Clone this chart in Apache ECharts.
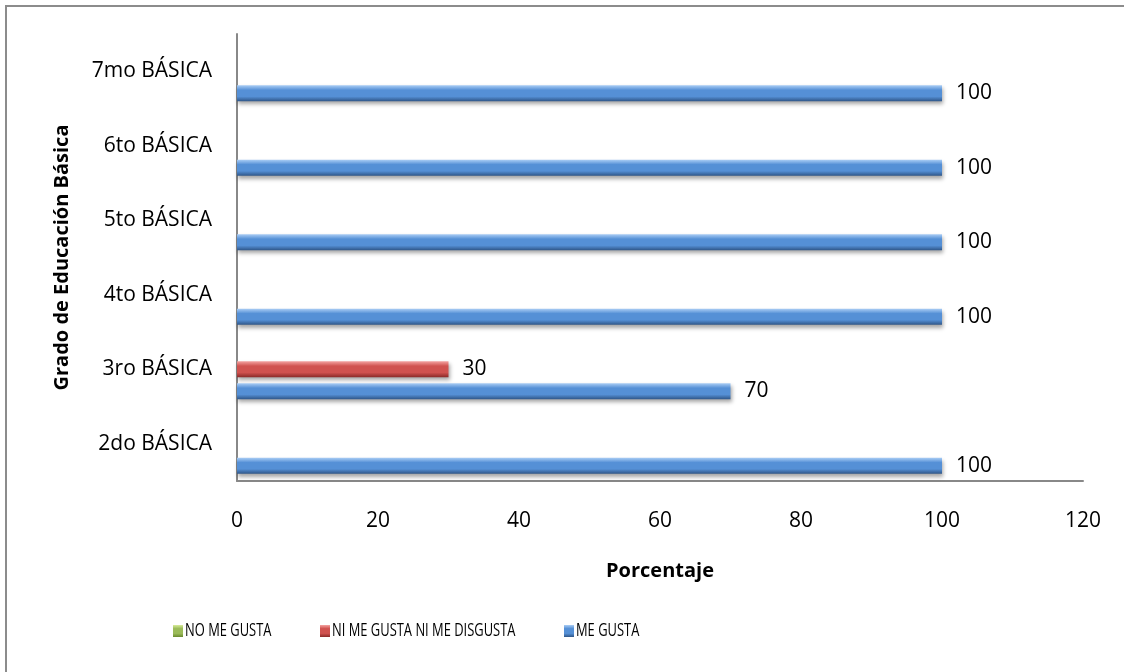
<!DOCTYPE html>
<html>
<head>
<meta charset="utf-8">
<script src="https://cdn.jsdelivr.net/npm/echarts@6/dist/echarts.min.js"></script>
<style>
  html, body { margin: 0; padding: 0; background: #fff; }
  #chart { width: 1124px; height: 672px; }
</style>
</head>
<body>
<div id="chart"></div>
<script>
// Grados (de abajo hacia arriba)
const categories = ['2do BÁSICA', '3ro BÁSICA', '4to BÁSICA', '5to BÁSICA', '6to BÁSICA', '7mo BÁSICA'];
const seriesNames = ['NO ME GUSTA', 'NI ME GUSTA NI ME DISGUSTA', 'ME GUSTA'];
const noMeGusta = [0, 0, 0, 0, 0, 0];
const niMeGusta = [0, 30, 0, 0, 0, 0];
const meGusta = [100, 70, 100, 100, 100, 100];
const xTicks = { min: 0, max: 120, interval: 20 };

const FONT = '"Open Sans", "Noto Sans", sans-serif';

function bevel(light, mid, dark) {
  return new echarts.graphic.LinearGradient(0, 0, 0, 1, [
    { offset: 0, color: light },
    { offset: 0.3, color: mid },
    { offset: 0.7, color: mid },
    { offset: 1, color: dark }
  ]);
}

const labelCfg = {
  show: true,
  position: 'right',
  distance: 14,
  color: '#000',
  fontFamily: FONT,
  fontSize: 21,
  formatter: p => (p.value ? String(p.value) : '')
};

function barSeries(name, data, light, mid, dark, showLabel) {
  return {
    name: name,
    type: 'bar',
    data: data,
    barWidth: 16,
    barGap: '37.5%',
    itemStyle: {
      color: bevel(light, mid, dark),
      shadowColor: 'rgba(0,0,0,0.35)',
      shadowBlur: 4,
      shadowOffsetY: 3,
      shadowOffsetX: 1
    },
    label: showLabel ? labelCfg : { show: false },
    emphasis: { disabled: true }
  };
}

// legend swatches, one block per entry at its own position
const legendLefts = [173, 320, 564];
const legends = seriesNames.map((n, i) => ({
  left: legendLefts[i],
  top: 625,
  padding: 0,
  itemWidth: 10,
  itemHeight: 12,
  itemGap: 0,
  icon: 'rect',
  data: [n],
  formatter: () => '',
  textStyle: { fontSize: 1 }
}));

// legend captions in a narrow (horizontally condensed) face
const legendTexts = seriesNames.map((n, i) => ({
  type: 'text',
  x: legendLefts[i] + 12,
  y: 631,
  scaleX: 0.68,
  silent: true,
  style: {
    text: n,
    fill: '#000',
    font: '19px "Open Sans", sans-serif',
    verticalAlign: 'middle',
    align: 'left'
  }
}));

const chart = echarts.init(document.getElementById('chart'), null, { renderer: 'canvas' });
chart.setOption({
  animation: false,
  backgroundColor: '#fff',
  graphic: [{
    type: 'rect',
    shape: { x: 6, y: 6, width: 1200, height: 700 },
    style: { fill: 'none', stroke: '#8c8c8c', lineWidth: 2 },
    silent: true
  }].concat(legendTexts),
  grid: { left: 237, right: 41, top: 34, bottom: 191, containLabel: false },
  legend: legends,
  xAxis: {
    type: 'value',
    min: xTicks.min,
    max: xTicks.max,
    interval: xTicks.interval,
    axisLine: { show: true, lineStyle: { color: '#888', width: 2 } },
    axisTick: { show: false },
    splitLine: { show: false },
    axisLabel: { color: '#000', fontFamily: FONT, fontSize: 21, margin: 30 },
    name: 'Porcentaje',
    nameLocation: 'middle',
    nameGap: 80,
    nameTextStyle: { color: '#000', fontFamily: FONT, fontSize: 20, fontWeight: 'bold' }
  },
  yAxis: {
    type: 'category',
    data: categories,
    axisLine: { show: true, lineStyle: { color: '#888', width: 2 } },
    axisTick: { show: false },
    splitLine: { show: false },
    axisLabel: { color: '#000', fontFamily: FONT, fontSize: 21, margin: 25 },
    name: 'Grado de Educación Básica',
    nameLocation: 'middle',
    nameGap: 165,
    nameRotate: 90,
    nameTextStyle: { color: '#000', fontFamily: FONT, fontSize: 20, fontWeight: 'bold' }
  },
  series: [
    barSeries(seriesNames[0], noMeGusta, '#d8ec9a', '#9bbb59', '#6a8a2f', false),
    barSeries(seriesNames[1], niMeGusta, '#f4a3a1', '#d0524f', '#8a2a28', true),
    barSeries(seriesNames[2], meGusta, '#aacdf5', '#5590d6', '#2f5688', true)
  ]
});
</script>
</body>
</html>
